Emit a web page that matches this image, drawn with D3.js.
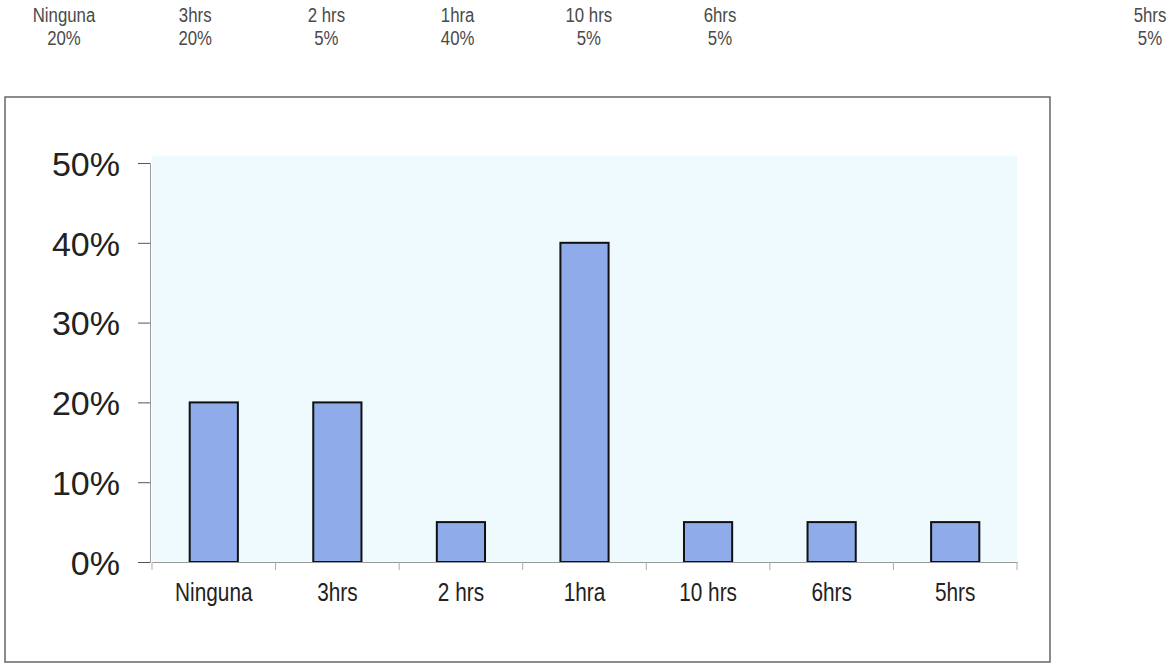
<!DOCTYPE html>
<html>
<head>
<meta charset="utf-8">
<script src="https://cdn.jsdelivr.net/npm/d3@7"></script>
<style>
  html, body { margin: 0; padding: 0; background: #fff; }
  svg { display: block; }
</style>
</head>
<body>
<svg id="chart"></svg>
<script>
// data
const categories = ["Ninguna", "3hrs", "2 hrs", "1hra", "10 hrs", "6hrs", "5hrs"];
const values = [0.20, 0.20, 0.05, 0.40, 0.05, 0.05, 0.05];
const yTicks = [0, 0.1, 0.2, 0.3, 0.4, 0.5];

const [w, h] = [1168, 665];
const font = "'Liberation Sans', Arial, sans-serif";
const pct = d3.format(".0%");

const svg = d3.select("#chart").attr("width", w).attr("height", h).attr("font-family", font);

// header row: category name over its percentage (narrow type, so squeeze it)
const topX = d3.scalePoint().domain(categories.slice(0, 6)).range([64, 720]);
categories.forEach((c, i) => {
  const x = i < 6 ? topX(c) : 1150;
  const g = svg.append("g").attr("transform", `translate(${x}, 0)`);
  g.append("text").attr("y", 22).attr("text-anchor", "middle").attr("font-size", 21)
    .attr("fill", "#4a4a4a").attr("transform", "scale(0.8,1)").text(c);
  g.append("text").attr("y", 45).attr("text-anchor", "middle").attr("font-size", 21)
    .attr("fill", "#4a4a4a").attr("transform", "scale(0.8,1)").text(pct(values[i]));
});

// outer chart frame
svg.append("rect").attr("x", 5).attr("y", 97).attr("width", 1045).attr("height", 565)
  .attr("fill", "none").attr("stroke", "#666").attr("stroke-width", 1.5);

const plot = {left: 152, right: 1017, top: 163, bottom: 562};

const xScale = d3.scaleBand().domain(categories).range([plot.left, plot.right]).paddingInner(0.61).paddingOuter(0.305);
const yScale = d3.scaleLinear().domain([0, 0.5]).range([plot.bottom, plot.top]);

// plot area background
svg.append("rect").attr("x", plot.left).attr("y", yScale(0.5) - 7)
  .attr("width", plot.right - plot.left).attr("height", yScale(0) - yScale(0.5) + 7)
  .attr("fill", "#eefafd");

// bars
svg.selectAll("rect.bar").data(values).enter().append("rect").attr("class", "bar")
  .attr("x", (d, i) => xScale(categories[i]))
  .attr("y", d => yScale(d))
  .attr("width", xScale.bandwidth())
  .attr("height", d => yScale(0) - yScale(d))
  .attr("fill", "#8fabea").attr("stroke", "#111").attr("stroke-width", 2);

// y axis
const yAxis = d3.axisLeft(yScale).tickValues(yTicks).tickFormat(pct).tickSize(12).tickPadding(18);
const gy = svg.append("g").attr("transform", `translate(${plot.left - 2}, 0)`).call(yAxis);
gy.select(".domain").attr("stroke", "#999");
gy.selectAll(".tick line").attr("stroke", "#555");
gy.selectAll(".tick text").attr("font-family", font).attr("font-size", 34).attr("fill", "#222").attr("dy", "0.36em");

// x axis with ticks between categories
const xAxis = d3.axisBottom(xScale).tickSize(0).tickPadding(21);
const gx = svg.append("g").attr("transform", `translate(0, ${plot.bottom})`).call(xAxis);
gx.select(".domain").attr("stroke", "#999");
gx.selectAll(".tick text").attr("font-family", font).attr("font-size", 26).attr("fill", "#222")
  .attr("transform", "scale(0.8,1)");
const step = xScale.step();
d3.range(categories.length + 1).forEach(i => {
  const x = plot.left + i * step;
  gx.append("line").attr("x1", x).attr("x2", x).attr("y1", 0).attr("y2", 8).attr("stroke", "#aaa");
});
</script>
</body>
</html>
